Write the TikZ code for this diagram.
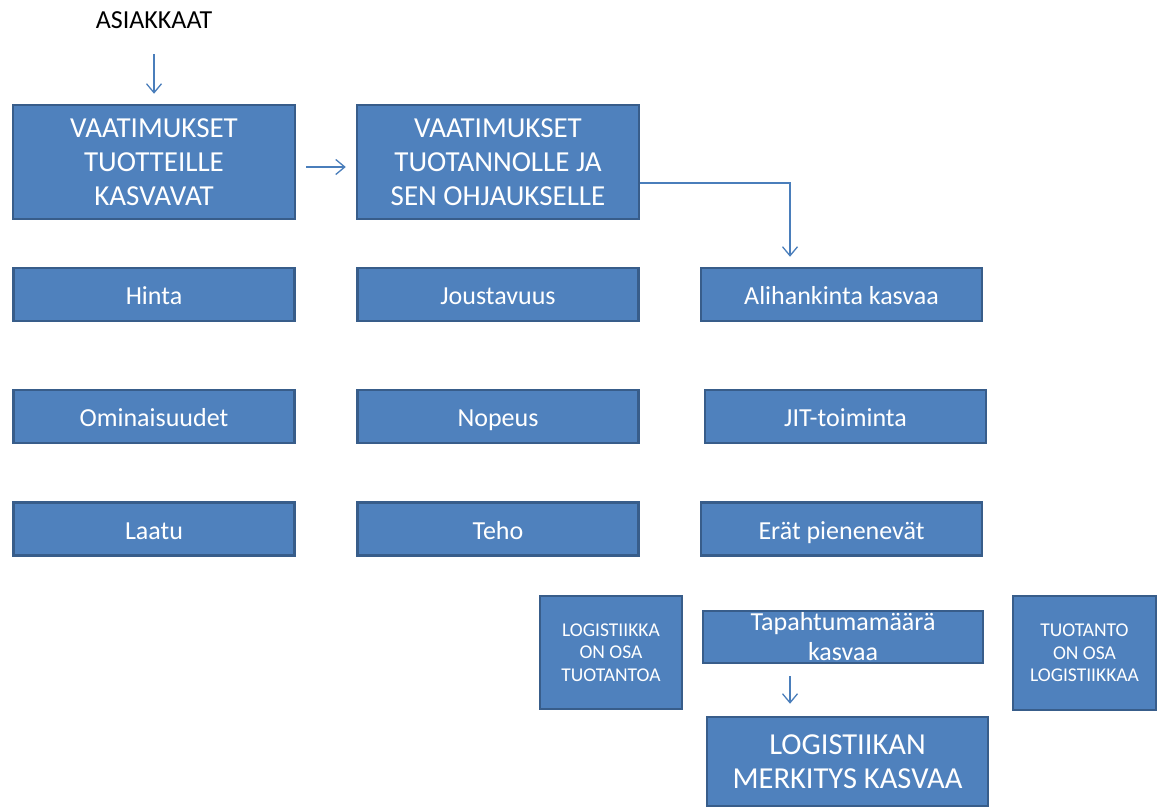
\documentclass[tikz,border=0pt]{standalone}
\usepackage{fontspec}
\setmainfont{Carlito}
\usetikzlibrary{arrows.meta,calc}
\definecolor{boxfill}{HTML}{4F81BD}
\definecolor{boxline}{HTML}{385D8A}
\definecolor{arrcol}{HTML}{4A7EBB}
\tikzset{
  box/.style={draw=boxline, line width=2.5pt, fill=boxfill, text=white, align=center, inner sep=0pt},
  bigbox/.style={box, minimum width=282pt, minimum height=114pt, font=\fontsize{29}{34}\selectfont},
  smallbox/.style={box, minimum width=281pt, minimum height=53pt, font=\fontsize{26}{30}\selectfont},
  oneline/.style={smallbox, text height=24pt, text depth=4pt},
  sidebox/.style={box, minimum width=142pt, minimum height=113pt, font=\fontsize{19.5}{22.5}\selectfont},
  arr/.style={draw=arrcol, line width=1.3pt, -{Straight Barb[length=9pt,width=15pt,line width=1.3pt]}},
}
\begin{document}
\begin{tikzpicture}[x=1pt,y=-1pt]
\useasboundingbox (0,0) rectangle (1162,808);
\node[font=\fontsize{26}{30}\selectfont] (asi) at (154,20) {ASIAKKAAT};
\node[bigbox] (b1) at (154,162) {VAATIMUKSET\\TUOTTEILLE\\KASVAVAT};
\node[bigbox] (b2) at (498,162) {VAATIMUKSET\\TUOTANNOLLE JA\\SEN OHJAUKSELLE};
\node[oneline] (hinta) at (154,294.5) {Hinta};
\node[oneline] (jous) at (498,294.5) {Joustavuus};
\node[oneline] (ali) at (841.5,294.5) {Alihankinta kasvaa};
\node[oneline] (omin) at (154,416.5) {Ominaisuudet};
\node[oneline] (nop) at (498,416.5) {Nopeus};
\node[oneline] (jit) at (845.5,416.5) {JIT-toiminta};
\node[oneline] (laatu) at (154,529) {Laatu};
\node[oneline] (teho) at (498,529) {Teho};
\node[oneline] (erat) at (841.5,529) {Erät pienenevät};
\node[sidebox] (logt) at (611,652.5) {LOGISTIIKKA\\ON OSA\\TUOTANTOA};
\node[smallbox, minimum width=280pt, minimum height=52pt] (tap) at (843,637) {Tapahtumamäärä\\kasvaa};
\node[sidebox, minimum width=143pt, minimum height=114pt] (tuot) at (1084.5,653) {TUOTANTO\\ON OSA\\LOGISTIIKKAA};
\node[box, minimum width=281pt, minimum height=89pt, font=\fontsize{30.5}{34}\selectfont] (lm) at (847.5,761.5) {LOGISTIIKAN\\MERKITYS KASVAA};
\draw[arr, shorten <=22pt, shorten >=10pt] (asi.south) -- (asi.south |- b1.north);
\draw[arr, shorten <=10pt, shorten >=10pt] ([yshift=-5pt]b1.east) -- ([yshift=-5pt]b2.west);
\draw[arr, shorten >=10pt] ([yshift=-21pt]b2.east) -| ([xshift=-51.5pt]ali.north);
\draw[arr, shorten <=12pt, shorten >=12pt] ([xshift=-53pt]tap.south) -- ([xshift=-53pt]tap.south |- lm.north);
\end{tikzpicture}
\end{document}
